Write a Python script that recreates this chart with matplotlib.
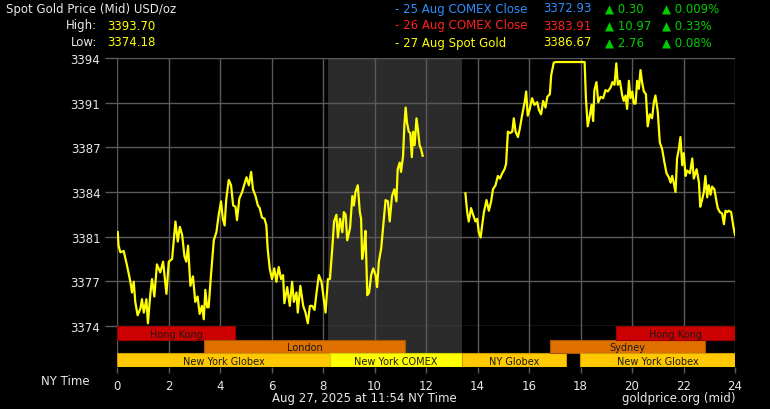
import numpy as np
import matplotlib
matplotlib.use("Agg")
import matplotlib.pyplot as plt

# price trace (NY hours, USD/oz), two segments with a gap around the COMEX close
h1 = [0.03, 0.06, 0.13, 0.26, 0.32, 0.39, 0.52, 0.58, 0.65, 0.71, 0.80, 0.91, 0.97, 1.04, 1.14, 1.20,
      1.30, 1.36, 1.45, 1.55, 1.68, 1.79, 1.92, 2.01, 2.14, 2.27, 2.36, 2.44, 2.53, 2.62, 2.69, 2.76,
      2.85, 2.95, 3.04, 3.13, 3.21, 3.30, 3.37, 3.43, 3.50, 3.56, 3.65, 3.76, 3.86, 3.95, 4.04, 4.11,
      4.18, 4.24, 4.34, 4.43, 4.51, 4.60, 4.66, 4.75, 4.86, 4.95, 5.03, 5.12, 5.21, 5.28, 5.38, 5.47,
      5.54, 5.63, 5.73, 5.80, 5.85, 5.93, 6.02, 6.11, 6.19, 6.28, 6.37, 6.45, 6.50, 6.61, 6.71, 6.80,
      6.87, 6.97, 7.02, 7.12, 7.23, 7.32, 7.41, 7.49, 7.58, 7.67, 7.75, 7.84,
      7.94, 8.01, 8.10, 8.19, 8.27, 8.36, 8.43, 8.52, 8.58, 8.66, 8.75, 8.81, 8.88, 8.94, 9.05, 9.14,
      9.20, 9.26, 9.35, 9.43, 9.48, 9.52, 9.59, 9.65, 9.72, 9.79, 9.87, 9.95, 10.04, 10.10, 10.17,
      10.26, 10.34, 10.43, 10.52, 10.59, 10.68, 10.77, 10.85, 10.90, 10.98, 11.03, 11.11, 11.16,
      11.21, 11.26, 11.33, 11.39, 11.45, 11.50, 11.56, 11.63, 11.69, 11.75, 11.81, 11.87]
p1 = [3381.0, 3380.0, 3379.5, 3379.6, 3379.1, 3378.5, 3377.3, 3376.5, 3377.3, 3375.8, 3374.8, 3375.3,
      3376.0, 3375.0, 3376.0, 3374.2, 3376.5, 3377.5, 3376.2, 3378.6, 3378.0, 3378.8, 3376.4, 3378.8,
      3379.0, 3381.8, 3380.3, 3381.4, 3380.8, 3379.2, 3378.8, 3380.0, 3377.0, 3377.7, 3375.8, 3376.2,
      3374.9, 3375.5, 3374.5, 3376.7, 3375.4, 3375.4, 3377.8, 3380.4, 3381.0, 3382.3, 3383.3, 3382.0,
      3381.5, 3383.4, 3384.9, 3384.5, 3383.0, 3382.9, 3381.9, 3383.5, 3384.0, 3384.6, 3385.1, 3384.5,
      3385.5, 3384.2, 3383.7, 3383.0, 3382.8, 3382.1, 3382.0, 3381.5, 3379.8, 3378.3, 3377.5, 3378.3,
      3377.3, 3378.4, 3377.5, 3377.8, 3375.7, 3376.9, 3375.5, 3377.3, 3375.8, 3376.5, 3375.0, 3377.0,
      3375.5, 3375.0, 3374.2, 3375.5, 3375.5, 3375.2, 3376.5, 3377.8,
      3377.3, 3376.3, 3375.0, 3377.5, 3377.5, 3379.8, 3381.8, 3382.3, 3380.6, 3382.0, 3381.0, 3382.5,
      3382.3, 3380.4, 3381.3, 3383.7, 3383.0, 3384.0, 3384.5, 3382.5, 3382.0, 3379.0, 3379.8, 3381.1,
      3376.3, 3376.5, 3377.8, 3378.3, 3377.8, 3376.9, 3378.8, 3379.8, 3381.5, 3383.4, 3383.3, 3381.8,
      3383.7, 3384.2, 3383.3, 3385.7, 3386.2, 3385.5, 3386.7, 3389.0, 3390.3, 3389.2, 3388.5, 3388.4,
      3386.6, 3388.5, 3387.5, 3389.5, 3388.6, 3387.5, 3387.2, 3386.7]

h2 = [13.53, 13.60, 13.66, 13.75, 13.83, 13.92, 13.99, 14.05, 14.12, 14.18, 14.25, 14.35, 14.44, 14.53,
      14.60, 14.70, 14.79, 14.87, 14.96, 15.05, 15.11, 15.18, 15.26, 15.35, 15.41, 15.48, 15.57, 15.64,
      15.73, 15.83, 15.89, 15.95, 16.03, 16.12, 16.21, 16.32, 16.39, 16.47, 16.55, 16.64, 16.71, 16.81,
      16.86, 16.96, 17.03, 18.16, 18.21, 18.28, 18.36, 18.43, 18.49, 18.54, 18.62, 18.69, 18.78, 18.88,
      18.97, 19.06, 19.17, 19.24, 19.32, 19.39, 19.45, 19.53, 19.62, 19.68, 19.75, 19.81, 19.88, 19.94,
      20.01, 20.07, 20.14, 20.20, 20.27, 20.33, 20.39, 20.46, 20.54, 20.61, 20.69, 20.78, 20.85, 20.91,
      21.00, 21.08, 21.17, 21.26, 21.34, 21.43, 21.50, 21.56, 21.62, 21.69, 21.75, 21.82, 21.88, 21.95,
      22.01, 22.08, 22.14, 22.25, 22.34, 22.40, 22.51, 22.60, 22.65, 22.72, 22.79, 22.85, 22.92, 22.98,
      23.05, 23.11, 23.20, 23.28, 23.33, 23.41, 23.50, 23.57, 23.63, 23.70, 23.76, 23.85, 23.93, 24.0]
p2 = [3383.9, 3382.5, 3381.8, 3382.8, 3382.3, 3381.8, 3382.0, 3381.0, 3380.6, 3381.5, 3382.5, 3383.4,
      3382.6, 3383.3, 3384.2, 3384.5, 3385.2, 3385.0, 3385.4, 3385.7, 3386.1, 3388.5, 3388.4, 3388.5,
      3389.5, 3388.5, 3388.1, 3388.7, 3389.7, 3390.7, 3391.5, 3389.7, 3390.2, 3391.0, 3390.5, 3390.7,
      3390.1, 3389.8, 3390.8, 3390.3, 3391.1, 3391.3, 3392.7, 3393.65, 3393.7, 3393.7, 3391.0, 3388.9,
      3389.7, 3390.5, 3389.3, 3391.6, 3392.2, 3390.7, 3391.1, 3391.0, 3391.6, 3391.5, 3391.8, 3392.2,
      3392.0, 3393.6, 3392.0, 3392.3, 3391.2, 3390.8, 3391.2, 3390.2, 3392.3, 3391.0, 3391.5, 3390.6,
      3390.6, 3392.3, 3391.7, 3393.1, 3392.2, 3391.5, 3391.3, 3388.9, 3389.8, 3389.5, 3390.7, 3391.2,
      3390.0, 3387.7, 3387.2, 3386.2, 3385.4, 3385.1, 3384.7, 3385.2, 3384.7, 3384.0, 3386.5, 3387.2,
      3388.1, 3386.0, 3386.9, 3385.2, 3385.6, 3385.4, 3386.5, 3385.0, 3385.7, 3384.7, 3382.9, 3383.4,
      3384.0, 3385.2, 3383.6, 3384.5, 3383.8, 3384.4, 3384.2, 3383.3, 3382.8, 3382.5, 3382.4, 3381.6,
      3382.6, 3382.5, 3382.6, 3382.5, 3381.5, 3380.8]

# trading sessions: name, start hour, end hour, row (2 = top)
sess_names = ["Hong Kong", "London", "New York Globex", "New York COMEX", "NY Globex",
              "Sydney", "Hong Kong", "New York Globex"]
sess_start = [0, 3.38, 0, 8.27, 13.41, 16.82, 19.38, 17.98]
sess_end = [4.58, 11.18, 8.27, 13.41, 17.42, 22.85, 24, 24]
sess_row = [2, 1, 0, 0, 0, 1, 2, 0]
sess_color = ["#cc0000", "#e07000", "#ffc800", "#ffff00", "#ffc800", "#e07000", "#cc0000", "#ffc800"]
sess_edge = ["#990000", "#a85400", "#d09a00", "#d0d000", "#d09a00", "#a85400", "#990000", "#d09a00"]

comex_span = (8.18, 13.41)
y_lo, y_hi = 3374, 3394
x_ticks = list(range(0, 25, 2))

header_rows = ["- 25 Aug COMEX Close", "- 26 Aug COMEX Close", "- 27 Aug Spot Gold"]
header_px = ["3372.93", "3383.91", "3386.67"]
header_chg = ["0.30", "10.97", "2.76"]
header_pct = ["0.009%", "0.33%", "0.08%"]
header_col = ["#2f8fff", "#ff2020", "#ffff00"]

W, H = 770, 410
fig = plt.figure(figsize=(W / 100, H / 100), dpi=100, facecolor="black")
plt.rcParams["font.family"] = ["DejaVu Sans"]

def fx(x):
    return x / W

def fy(y):
    return 1 - y / H

grid_c = "#5a5a5a"
txt_c = "#e8e8e8"

ax = fig.add_axes([fx(117), fy(327), fx(735) - fx(117), fy(59) - fy(327)], facecolor="black")
bx = fig.add_axes([fx(117), fy(368), fx(735) - fx(117), fy(327) - fy(368)], facecolor="black")

for a in (ax, bx):
    a.set_axisbelow(True)
    a.axvspan(*comex_span, color="#2b2b2b", zorder=0, lw=0)
    a.set_xlim(0, 24)
    for s in a.spines.values():
        s.set_visible(False)
    a.set_xticks(x_ticks)
    a.grid(axis="x", color=grid_c, lw=1)

yt = np.linspace(y_lo, y_hi, 7)
ax.set_ylim(y_lo, y_hi)
ax.set_yticks(yt)
ax.set_yticklabels(["%.0f" % v for v in yt])
ax.grid(axis="y", color=grid_c, lw=1)
ax.tick_params(axis="y", colors=grid_c, labelcolor=txt_c, labelsize=8.5, length=9, width=1, pad=3)
ax.tick_params(axis="x", length=0, labelbottom=False)

ax.plot(h1, p1, color="#ffff00", lw=1.6, zorder=3, solid_joinstyle="round")
ax.plot(h2, p2, color="#ffff00", lw=1.6, zorder=3, solid_joinstyle="round")

bx.set_ylim(0, 3)
bx.set_yticks([])
bx.tick_params(axis="x", colors=grid_c, labelcolor=txt_c, labelsize=8.5, length=4, width=1, pad=5)
for name, s, e, r, c, ec in zip(sess_names, sess_start, sess_end, sess_row, sess_color, sess_edge):
    bx.barh(r + 0.5, e - s, left=s, height=1, color=c, edgecolor=ec, lw=0.8, zorder=2)
    bx.text((s + e) / 2, r + 0.45, name, ha="center", va="center", fontsize=7, color="#1a1a1a", zorder=3)

# header text
fig.text(fx(6), fy(10), "Spot Gold Price (Mid) USD/oz", color=txt_c, fontsize=8.5, va="center")
fig.text(fx(97), fy(26), "High:", color=txt_c, fontsize=8.5, va="center", ha="right")
fig.text(fx(107), fy(26), "3393.70", color="#ffff00", fontsize=8.5, va="center")
fig.text(fx(97), fy(43), "Low:", color=txt_c, fontsize=8.5, va="center", ha="right")
fig.text(fx(107), fy(43), "3374.18", color="#ffff00", fontsize=8.5, va="center")

for i, (lab, pxv, chg, pct, col) in enumerate(zip(header_rows, header_px, header_chg, header_pct, header_col)):
    yy = fy(9 + 17 * i)
    fig.text(fx(395), yy, lab, color=col, fontsize=8.5, va="center")
    fig.text(fx(543), yy, pxv, color=col, fontsize=8.5, va="center")
    fig.text(fx(605), yy, "\u25b2 " + chg, color="#00cc00", fontsize=8.5, va="center")
    fig.text(fx(662), yy, "\u25b2 " + pct, color="#00cc00", fontsize=8.5, va="center")

fig.text(fx(90), fy(382), "NY Time", color=txt_c, fontsize=8.5, va="center", ha="right")
fig.text(fx(364), fy(399), "Aug 27, 2025 at 11:54 NY Time", color=txt_c, fontsize=8.5, va="center", ha="center")
fig.text(fx(735), fy(399), "goldprice.org (mid)", color=txt_c, fontsize=8.5, va="center", ha="right")

fig.savefig("out.png", dpi=100, facecolor="black")
